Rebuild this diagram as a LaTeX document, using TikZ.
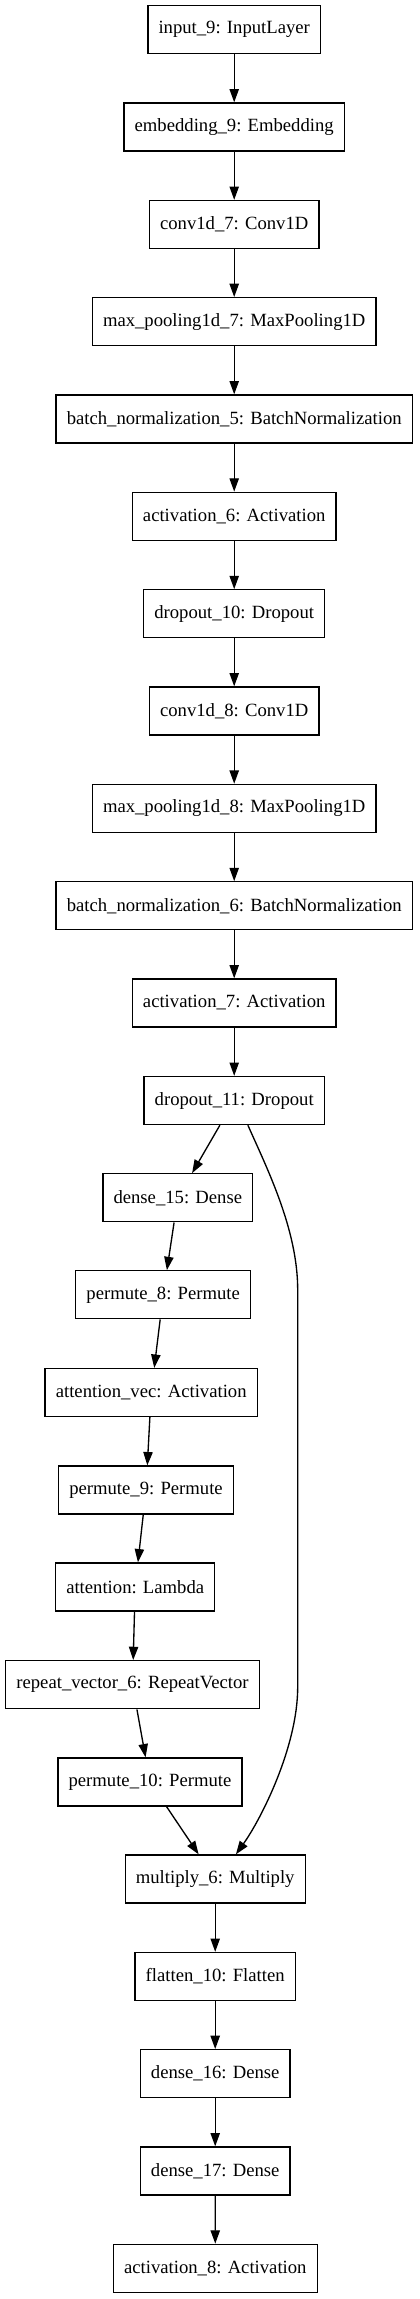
\documentclass[tikz,border=0pt]{standalone}
\usepackage{fontspec}
\setmainfont{Liberation Serif}
\usetikzlibrary{arrows.meta}

\begin{document}
\begin{tikzpicture}[x=0.75pt, y=-0.75pt,
  every node/.style={rectangle, draw, line width=1pt, minimum height=36pt, inner xsep=8pt,
    font=\fontsize{14}{16}\selectfont},
  flow/.style={line width=1pt, -{Triangle[length=10pt, width=7pt]}}]
\useasboundingbox (0,0) rectangle (420,2299);
\node (in9) at (234.2, 29.7) {input\_9: InputLayer};
\node (emb9) at (234.2, 127.0) {embedding\_9: Embedding};
\node (conv7) at (234.2, 224.5) {conv1d\_7: Conv1D};
\node (mp7) at (234.2, 321.7) {max\_pooling1d\_7: MaxPooling1D};
\node (bn5) at (234.2, 419.0) {batch\_normalization\_5: BatchNormalization};
\node (act6) at (234.2, 516.3) {activation\_6: Activation};
\node (do10) at (234.2, 613.8) {dropout\_10: Dropout};
\node (conv8) at (234.2, 711.0) {conv1d\_8: Conv1D};
\node (mp8) at (234.2, 808.4) {max\_pooling1d\_8: MaxPooling1D};
\node (bn6) at (234.2, 905.8) {batch\_normalization\_6: BatchNormalization};
\node (act7) at (234.2, 1003.0) {activation\_7: Activation};
\node (do11) at (234.2, 1100.5) {dropout\_11: Dropout};
\node (d15) at (177.8, 1197.8) {dense\_15: Dense};
\node (perm8) at (163.2, 1294.8) {permute\_8: Permute};
\node (attvec) at (151.2, 1392.5) {attention\_vec: Activation};
\node (perm9) at (146.0, 1490.0) {permute\_9: Permute};
\node (att) at (135.2, 1587.0) {attention: Lambda};
\node (rep6) at (132.5, 1684.7) {repeat\_vector\_6: RepeatVector};
\node (perm10) at (150.0, 1782.0) {permute\_10: Permute};
\node (mul6) at (215.2, 1879.0) {multiply\_6: Multiply};
\node (flat10) at (215.2, 1976.5) {flatten\_10: Flatten};
\node (d16) at (215.2, 2073.7) {dense\_16: Dense};
\node (d17) at (215.2, 2171.0) {dense\_17: Dense};
\node (act8) at (215.3, 2268.3) {activation\_8: Activation};
% skip connection bends
\coordinate (skipA) at (297.7, 1290);
\coordinate (skipB) at (297.7, 1687);
\draw[flow] (in9) -- (emb9);
\draw[flow] (emb9) -- (conv7);
\draw[flow] (conv7) -- (mp7);
\draw[flow] (mp7) -- (bn5);
\draw[flow] (bn5) -- (act6);
\draw[flow] (act6) -- (do10);
\draw[flow] (do10) -- (conv8);
\draw[flow] (conv8) -- (mp8);
\draw[flow] (mp8) -- (bn6);
\draw[flow] (bn6) -- (act7);
\draw[flow] (act7) -- (do11);
\draw[flow] (do11) -- (d15);
\draw[flow] (d15) -- (perm8);
\draw[flow] (perm8) -- (attvec);
\draw[flow] (attvec) -- (perm9);
\draw[flow] (perm9) -- (att);
\draw[flow] (att) -- (rep6);
\draw[flow] (rep6) -- (perm10);
\draw[flow] (perm10) -- (mul6);
\draw[flow] (do11.-61) .. controls +(20,45) and +(0,-60) .. (skipA) -- (skipB)
  .. controls +(0,60) and +(25,-35) .. (mul6.50);
\draw[flow] (mul6) -- (flat10);
\draw[flow] (flat10) -- (d16);
\draw[flow] (d16) -- (d17);
\draw[flow] (d17) -- (act8);
\end{tikzpicture}
\end{document}
